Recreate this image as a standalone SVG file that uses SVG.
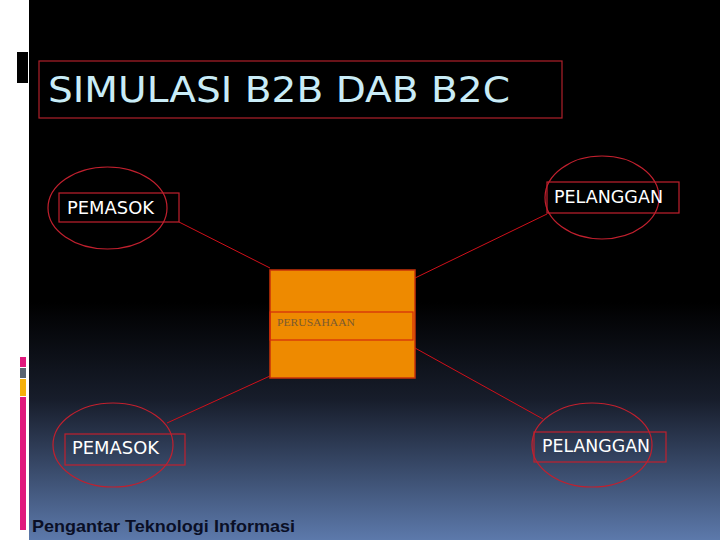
<svg xmlns="http://www.w3.org/2000/svg" width="720" height="540" viewBox="0 0 720 540">
<defs>
<linearGradient id="bg" x1="0" y1="0" x2="0" y2="1">
<stop offset="0" stop-color="#000000"/>
<stop offset="0.56" stop-color="#000000"/>
<stop offset="0.74" stop-color="#171d2b"/>
<stop offset="1" stop-color="#5c79ab"/>
</linearGradient>
<style>
.ell{fill:none;stroke:#c1202e;stroke-width:1.2}
.box{fill:none;stroke:#c1202e;stroke-width:1.2}
.lbl{font-family:"DejaVu Sans","Liberation Sans",sans-serif;font-size:17px;fill:#ffffff}
.conn{stroke:#d0101a;stroke-width:1;fill:none}
</style>
</defs>
<rect x="0" y="0" width="720" height="540" fill="#ffffff"/>
<rect x="29" y="0" width="691" height="540" fill="url(#bg)"/>
<rect x="17" y="52" width="11" height="31" fill="#000000"/>
<g id="sidebar">
<rect x="20" y="357" width="6" height="10" fill="#e0197d"/>
<rect x="20" y="368" width="6" height="10" fill="#5a6470"/>
<rect x="20" y="379" width="6" height="17" fill="#f5b10c"/>
<rect x="20" y="397" width="6" height="133" fill="#e0197d"/>
</g>
<g id="title">
<rect x="39" y="61" width="523" height="57" fill="none" stroke="#b0202a" stroke-width="1.2"/>
<text x="48" y="102" font-family="DejaVu Sans,sans-serif" font-size="36" fill="#c9ecf7" textLength="462" lengthAdjust="spacingAndGlyphs">SIMULASI B2B DAB B2C</text>
</g>
<g id="connectors">
<line class="conn" x1="179" y1="222" x2="270" y2="268"/>
<line class="conn" x1="547" y1="214" x2="415" y2="278"/>
<line class="conn" x1="167" y1="423" x2="270" y2="376"/>
<line class="conn" x1="543" y1="419" x2="415" y2="348"/>
</g>
<g id="perusahaan">
<rect x="270" y="270" width="145" height="108" fill="#ee8a00" stroke="#c8320a" stroke-width="1.5"/>
<rect x="270" y="312" width="143" height="28" fill="none" stroke="#d42a0a" stroke-width="1.2"/>
<text x="277" y="326" font-family="Liberation Serif,serif" font-size="11" fill="#7a5a30" textLength="78" lengthAdjust="spacingAndGlyphs">PERUSAHAAN</text>
</g>
<g id="pemasok-top">
<ellipse class="ell" cx="107.5" cy="208" rx="59.5" ry="41"/>
<rect class="box" x="59" y="193" width="120" height="29"/>
<text class="lbl" x="67" y="214" textLength="87" lengthAdjust="spacingAndGlyphs">PEMASOK</text>
</g>
<g id="pelanggan-top">
<ellipse class="ell" cx="602" cy="197.5" rx="57" ry="41.5"/>
<rect class="box" x="547" y="182" width="132" height="31"/>
<text class="lbl" x="554" y="203" textLength="109" lengthAdjust="spacingAndGlyphs">PELANGGAN</text>
</g>
<g id="pemasok-bottom">
<ellipse class="ell" cx="113" cy="445" rx="60" ry="42"/>
<rect class="box" x="65" y="434" width="120" height="31"/>
<text class="lbl" x="72" y="454" textLength="87" lengthAdjust="spacingAndGlyphs">PEMASOK</text>
</g>
<g id="pelanggan-bottom">
<ellipse class="ell" cx="592" cy="445" rx="60" ry="42"/>
<rect class="box" x="534" y="432" width="132" height="30"/>
<text class="lbl" x="542" y="452" textLength="108" lengthAdjust="spacingAndGlyphs">PELANGGAN</text>
</g>
<text x="32" y="532" font-family="Liberation Sans,Arial,sans-serif" font-size="17" font-weight="bold" fill="#0a0f26" textLength="263" lengthAdjust="spacingAndGlyphs">Pengantar Teknologi Informasi</text>
</svg>
